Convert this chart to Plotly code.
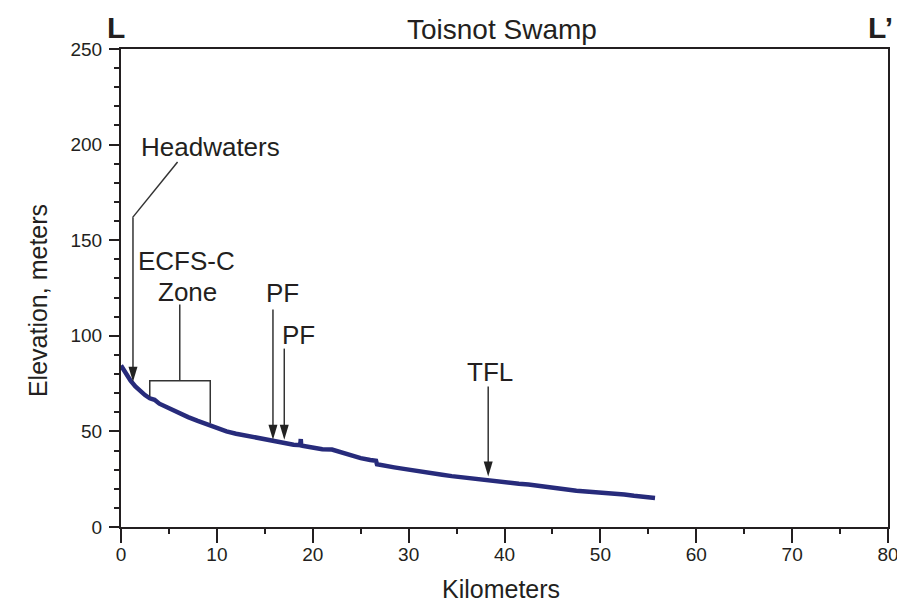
import plotly.graph_objects as go

# Profile data (km, m)
dist_km = [0, 0.3, 0.6, 1.0, 1.5, 2.0, 2.5, 3.0, 3.5, 4.0, 5.0, 6.0, 7.0, 8.0, 9.0,
           10.0, 11.0, 12.0, 13.0, 14.0, 15.0, 16.0, 17.0, 18.0, 18.7, 18.75, 18.8,
           19.5, 20.3, 21.0, 22.0, 22.3, 23.0, 23.3, 24.0, 25.0, 26.0, 26.6, 26.7,
           27.5, 28.5, 29.5, 30.5, 31.5, 32.5, 33.5, 34.5, 35.5, 36.5, 37.5, 38.5,
           39.5, 40.5, 41.5, 42.5, 43.5, 44.0, 44.5, 45.5, 46.5, 47.5, 48.5, 49.5,
           50.5, 51.5, 52.5, 53.5, 54.5, 55.7]
elev_m = [84.5, 82.0, 79.5, 76.5, 73.5, 71.0, 69.0, 67.3, 66.5, 64.5, 62.0, 59.5, 57.5,
          55.5, 53.6, 52.0, 50.0, 48.8, 47.8, 46.6, 45.5, 44.5, 44.0, 43.0, 42.8, 46.0,
          42.6, 42.0, 41.2, 40.7, 40.5, 40.0, 39.0, 38.3, 37.6, 36.0, 35.0, 34.6, 32.8,
          32.3, 31.2, 30.4, 29.5, 28.8, 28.0, 27.3, 26.6, 26.0, 25.3, 24.6, 24.2, 23.5,
          23.0, 22.6, 22.2, 21.5, 21.0, 20.6, 20.2, 19.5, 19.0, 18.6, 18.3, 17.9, 17.6,
          17.0, 16.3, 15.8, 15.2]

# Arrow annotations: x position, top of shaft, tip
arrow_x = [1.25, 15.85, 17.03, 38.3]
arrow_top = [161.8, 113.7, 93.3, 73.5]
arrow_tip = [76.0, 45.6, 45.6, 26.4]

label_text = ["Headwaters", "ECFS-C", "Zone", "PF", "PF", "TFL"]
label_x = [9.3, 6.8, 6.9, 16.8, 18.5, 38.5]
label_y = [148, 262, 292, 293, 335, 372]  # pixel rows (converted below)

# ECFS-C bracket
bracket_left, bracket_right, bracket_mid = 3.0, 9.31, 6.13
bracket_y, bracket_left_bot, bracket_right_bot, bracket_top = 76.5, 68.3, 54.3, 116.4
# Headwaters leader
leader_start = (5.9, 190.9)
leader_end = (1.2, 161.8)

line_col = "#272b7b"
ann_col = "#333333"
FONT = "Liberation Sans, Arial, sans-serif"
TXT = "#231f20"

fig = go.Figure()
fig.add_trace(go.Scatter(x=dist_km, y=elev_m, mode="lines",
                         line=dict(color=line_col, width=4.5), hoverinfo="skip",
                         showlegend=False))

shapes = []
for ax_, top, tip in zip(arrow_x, arrow_top, arrow_tip):
    shapes.append(dict(type="line", xref="x", yref="y", x0=ax_, x1=ax_, y0=top, y1=tip + 3,
                       line=dict(color=ann_col, width=1.5)))
    shapes.append(dict(type="path", xref="x", yref="y", xsizemode="pixel", ysizemode="pixel",
                       xanchor=ax_, yanchor=tip, path="M-4.5,15 L4.5,15 L0,0 Z",
                       fillcolor="#222222", line=dict(width=0)))
shapes.append(dict(type="line", xref="x", yref="y", x0=leader_start[0], y0=leader_start[1],
                   x1=leader_end[0], y1=leader_end[1], line=dict(color=ann_col, width=1.5)))
shapes.append(dict(type="path", xref="x", yref="y",
                   path=f"M{bracket_left},{bracket_left_bot} L{bracket_left},{bracket_y} "
                        f"L{bracket_right},{bracket_y} L{bracket_right},{bracket_right_bot}",
                   line=dict(color=ann_col, width=1.5)))
shapes.append(dict(type="line", xref="x", yref="y", x0=bracket_mid, x1=bracket_mid,
                   y0=bracket_y, y1=bracket_top, line=dict(color=ann_col, width=1.5)))

annotations = []
def py_to_m(py):
    return (527 - py) / 1.908

for t, x, py in zip(label_text, label_x, label_y):
    annotations.append(dict(text=t, x=x, y=py_to_m(py), xref="x", yref="y", showarrow=False,
                            xanchor="center", yanchor="middle",
                            font=dict(family=FONT, size=26, color=TXT)))

def paper_ann(text, x, y, size, angle=0, yanchor="middle"):
    return dict(text=text, x=x, y=y, xref="paper", yref="paper", showarrow=False,
                xanchor="center", yanchor=yanchor, textangle=angle,
                font=dict(family=FONT, size=size, color=TXT))

annotations += [
    paper_ann("Toisnot Swamp", 0.497, 1.040, 28),
    paper_ann("<b>L</b>", -0.0065, 1.046, 30),
    paper_ann("<b>L’</b>", 0.99, 1.046, 30),
    paper_ann("Elevation, meters", -0.108, 0.473, 25, -90),
    paper_ann("Kilometers", 0.4955, -0.130, 25),
]

fig.update_layout(
    width=897, height=599,
    margin=dict(l=113, r=17, t=41, b=80),
    paper_bgcolor="white", plot_bgcolor="white",
    shapes=shapes, annotations=annotations,
    font=dict(family=FONT, color=TXT),
    xaxis=dict(range=[0, 80], dtick=10, tick0=0, showgrid=False, zeroline=False,
               automargin=False, ticklabeloverflow="allow",
               showline=True, linecolor=TXT, linewidth=2, mirror=True,
               ticks="outside", ticklen=14, tickwidth=1.5, tickcolor=TXT,
               tickfont=dict(size=19), ticklabelstandoff=-5,
               minor=dict(ticks="outside", dtick=5, ticklen=5, tickwidth=1.5,
                          tickcolor=TXT, showgrid=False)),
    yaxis=dict(range=[0, 250], dtick=50, tick0=0, showgrid=False, zeroline=False,
               automargin=False,
               showline=True, linecolor=TXT, linewidth=2, mirror=True,
               ticks="outside", ticklen=10, tickwidth=1.5, tickcolor=TXT,
               tickfont=dict(size=19), ticklabelstandoff=3,
               minor=dict(ticks="outside", dtick=10, ticklen=5, tickwidth=1.5,
                          tickcolor=TXT, showgrid=False)),
)

fig.write_html("out.html")
